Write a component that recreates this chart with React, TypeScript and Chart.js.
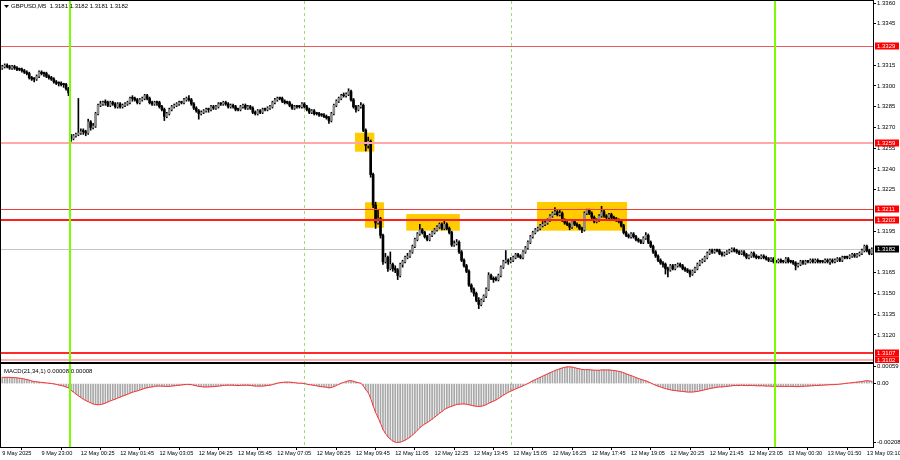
import React, { useEffect, useRef } from 'react';
import { Chart, registerables } from 'chart.js';

Chart.register(...registerables);

// ---------- DATA (prices in pips above BASE) ----------
const BASE = 1.31;
const PIP = 0.0001;

const opensPips = [
  213,214,215,214,213,214,213,212,212,211,
  210,209,206,205,205,207,210,209,209,207,
  206,205,203,202,202,201,201,198,164,162,
  164,165,166,167,167,166,174,170,171,180,
  186,187,188,188,186,188,187,185,187,185,
  186,187,188,191,191,190,188,190,191,193,
  191,188,187,188,188,185,183,178,180,183,
  185,186,187,188,188,190,191,190,187,184,
  182,180,181,182,183,183,185,184,185,187,
  187,188,187,185,186,185,183,183,185,186,
  184,185,184,181,180,182,181,183,183,184,
  185,188,190,191,191,189,188,188,186,184,
  185,185,185,187,185,183,181,182,180,180,
  179,179,178,177,175,180,186,189,191,193,
  193,194,196,190,185,183,185,186,168,157,
  160,136,114,101,104,92,73,76,68,71,
  68,67,63,71,73,76,77,80,84,89,
  93,96,94,91,89,92,94,96,98,100,
  97,100,97,94,85,86,87,80,74,70,
  66,56,53,50,45,42,45,48,53,63,
  61,60,60,63,69,73,74,73,74,76,
  78,77,76,80,83,87,91,94,96,97,
  99,100,101,103,106,108,109,107,108,103,
  101,100,98,102,100,99,97,96,108,110,
  108,105,102,103,106,109,106,105,107,105,
  104,103,102,99,94,92,91,93,91,89,
  88,87,90,92,87,84,80,77,74,72,
  71,68,67,70,68,70,71,70,68,67,
  66,64,66,68,71,73,74,76,79,81,
  80,81,81,79,78,79,80,81,82,81,
  80,79,80,78,76,77,79,77,76,76,
  77,76,75,74,75,73,73,74,73,73,
  75,73,73,72,70,71,73,72,73,73,
  74,73,74,73,73,73,74,73,74,73,
  74,75,74,76,76,76,77,78,77,78,
  79,81,84,81,79
];

const closesPips = [
  214,215,214,213,214,213,212,212,211,210,
  209,206,205,205,207,210,209,209,207,206,
  205,203,202,202,201,201,198,195,162,164,
  165,166,167,167,166,174,170,171,180,186,
  187,188,188,186,188,187,185,187,185,186,
  187,188,191,191,190,188,190,191,193,191,
  188,187,188,188,185,183,178,180,183,185,
  186,187,188,188,190,191,190,187,184,182,
  180,181,182,183,183,185,184,185,187,187,
  188,187,185,186,185,183,183,185,186,184,
  185,184,181,180,182,181,183,183,184,185,
  188,190,191,191,189,188,188,186,184,185,
  185,185,187,185,183,181,182,180,180,179,
  179,178,177,175,180,186,189,191,193,193,
  194,196,190,185,183,185,186,168,157,160,
  136,114,101,104,92,73,76,68,71,68,
  67,63,71,73,76,77,80,84,89,93,
  96,94,91,89,92,94,96,98,100,97,
  100,97,94,85,86,87,80,74,70,66,
  56,53,50,45,42,45,48,53,63,61,
  60,60,63,69,73,74,73,74,76,78,
  77,76,80,83,87,91,94,96,97,99,
  100,101,103,106,108,109,107,108,103,101,
  100,98,102,100,99,97,96,108,110,108,
  105,102,103,106,109,106,105,107,105,104,
  103,102,99,94,92,91,93,91,89,88,
  87,90,92,87,84,80,77,74,72,71,
  68,67,70,68,70,71,70,68,67,66,
  64,66,68,71,73,74,76,79,81,80,
  81,81,79,78,79,80,81,82,81,80,
  79,80,78,76,77,79,77,76,76,77,
  76,75,74,75,73,73,74,73,73,75,
  73,73,72,70,71,73,72,73,73,74,
  73,74,73,73,73,74,73,74,73,74,
  75,74,76,76,76,77,78,77,78,79,
  81,84,81,79,82
];

const highsPips = [
  215,216,216,215,215,215,214,213,213,212,
  211,210,207,206,208,211,211,210,210,208,
  207,206,204,203,203,202,202,199,165,165,
  166,191,169,169,168,176,175,173,181,187,
  189,189,190,189,189,189,188,188,188,187,
  188,189,192,193,192,191,191,192,194,194,
  192,189,189,189,189,186,184,181,184,186,
  187,188,189,189,191,192,193,191,188,185,
  183,182,183,184,184,186,186,186,188,188,
  189,189,188,187,187,186,184,186,187,187,
  186,186,185,182,183,183,184,184,185,186,
  189,191,192,192,192,190,189,189,187,186,
  186,186,188,188,186,184,183,183,181,181,
  180,180,179,178,181,187,190,192,194,195,
  195,198,197,191,186,186,188,187,169,163,
  161,137,116,110,105,93,79,77,80,72,
  70,68,72,74,77,79,81,85,90,94,
  100,97,95,92,93,95,97,99,101,101,
  103,101,98,95,88,89,88,81,75,71,
  67,57,54,51,47,46,49,54,65,64,
  62,62,64,70,74,81,75,76,77,79,
  79,78,81,84,88,92,95,97,98,100,
  102,103,104,107,109,112,110,110,109,104,
  102,101,103,103,101,100,98,109,111,111,
  109,106,104,107,113,110,107,108,108,106,
  105,104,103,100,95,93,94,94,92,90,
  89,91,94,93,88,85,81,78,75,73,
  72,69,71,71,71,72,72,71,69,68,
  67,67,69,72,74,75,77,80,82,82,
  82,82,82,80,80,81,82,83,83,82,
  81,81,81,79,78,80,80,78,77,78,
  78,77,76,76,76,74,75,75,74,76,
  76,74,74,73,72,74,74,74,74,75,
  75,75,75,74,74,75,75,75,75,75,
  76,76,77,77,77,78,79,79,79,80,
  82,85,85,82,83
];

const lowsPips = [
  212,213,213,212,212,212,211,211,210,209,
  208,205,204,203,204,206,208,207,206,205,
  204,202,201,200,200,199,197,193,160,161,
  163,164,165,165,164,165,168,169,170,179,
  185,186,186,185,185,186,184,184,184,184,
  185,186,187,189,189,187,187,189,190,190,
  187,186,186,186,184,182,175,177,179,182,
  184,185,186,187,187,189,189,186,183,181,
  176,179,180,181,181,182,183,183,184,186,
  186,186,184,184,184,182,182,182,184,183,
  183,183,180,179,179,180,180,182,182,183,
  184,187,189,190,188,187,187,185,183,183,
  184,184,184,184,182,180,180,179,179,178,
  178,177,176,173,174,179,185,188,190,192,
  192,193,189,184,181,182,184,167,153,155,
  134,112,97,100,90,71,72,66,67,66,
  65,60,62,69,72,75,76,79,83,88,
  92,93,90,88,88,91,93,95,97,96,
  96,96,93,84,84,85,79,73,69,65,
  55,51,48,44,39,41,44,47,52,60,
  58,59,59,62,68,72,71,72,73,75,
  76,75,75,79,82,86,90,93,95,96,
  98,99,100,102,105,107,106,106,102,100,
  99,96,97,99,98,96,94,95,107,107,
  104,101,101,102,105,105,104,104,104,103,
  102,101,98,93,91,90,90,90,88,87,
  86,86,89,86,83,79,76,73,71,69,
  64,62,66,67,67,69,69,67,66,65,
  62,63,65,67,70,72,73,75,78,79,
  79,80,78,77,77,78,79,80,80,79,
  78,78,77,75,75,76,76,75,75,75,
  75,74,73,73,72,72,72,72,72,72,
  72,72,71,67,69,70,71,71,72,72,
  72,72,72,72,72,72,72,71,72,72,
  73,73,73,75,75,75,76,76,76,77,
  78,80,80,78,78
];

// MACD(21,34,1) main value in units of 0.00001
const macdE5 = [
  22,22,22,22,21,21,20,19,18,16,
  14,12,9,7,6,5,4,3,2,1,
  0,-1,-3,-5,-7,-9,-12,-15,-24,-30,
  -37,-43,-49,-55,-60,-64,-68,-72,-74,-75,
  -74,-72,-69,-65,-61,-58,-55,-51,-48,-44,
  -41,-38,-34,-31,-28,-26,-23,-20,-17,-15,
  -13,-12,-10,-9,-9,-9,-10,-10,-10,-9,
  -8,-7,-6,-5,-4,-3,-3,-4,-6,-8,
  -10,-11,-12,-12,-12,-11,-11,-10,-9,-8,
  -7,-6,-6,-6,-6,-7,-7,-7,-6,-6,
  -6,-7,-8,-9,-9,-9,-9,-8,-7,-6,
  -4,-1,1,3,4,5,5,5,4,3,
  2,1,1,0,-2,-4,-5,-7,-8,-10,
  -11,-12,-13,-15,-14,-11,-7,-3,1,4,
  7,10,10,8,5,3,1,-8,-22,-32,
  -52,-78,-102,-120,-140,-162,-176,-188,-196,-203,
  -207,-208,-207,-204,-200,-195,-189,-182,-174,-165,
  -156,-149,-143,-138,-132,-126,-119,-112,-105,-99,
  -92,-87,-83,-80,-77,-74,-73,-72,-72,-73,
  -75,-77,-79,-80,-81,-80,-78,-75,-70,-66,
  -62,-58,-53,-47,-41,-36,-31,-27,-23,-19,
  -15,-12,-8,-4,0,5,10,14,18,22,
  26,30,34,38,42,46,49,52,55,57,
  59,59,58,56,54,52,50,49,49,49,
  48,47,47,47,48,48,48,48,47,46,
  45,43,41,38,34,31,28,25,21,18,
  15,12,10,6,2,-2,-6,-9,-12,-15,
  -18,-20,-22,-24,-25,-26,-27,-28,-29,-30,
  -30,-30,-29,-28,-26,-24,-22,-20,-18,-16,
  -15,-13,-12,-12,-11,-10,-9,-8,-7,-7,
  -7,-6,-7,-7,-7,-7,-7,-8,-8,-8,
  -8,-9,-9,-9,-10,-10,-10,-10,-10,-10,
  -10,-10,-10,-11,-11,-10,-10,-9,-9,-8,
  -8,-7,-7,-6,-6,-5,-5,-4,-4,-3,
  -3,-2,-1,0,1,2,3,4,5,6,
  7,9,10,9,8
];

const timeTickBars = [0,16,32,48,64,80,96,112,128,144,160,176,192,208,224,240,256,272,288,304,320,336,352];
const timeTickLabels = [
  '9 May 2025','9 May 23:00','12 May 00:25','12 May 01:45','12 May 03:05','12 May 04:25',
  '12 May 05:45','12 May 07:05','12 May 08:25','12 May 09:45','12 May 11:05','12 May 12:25',
  '12 May 13:45','12 May 15:05','12 May 16:25','12 May 17:45','12 May 19:05','12 May 20:25',
  '12 May 21:45','12 May 23:05','13 May 00:30','13 May 01:50','13 May 03:10'
];

const priceTicks = [1.3360,1.3345,1.3315,1.3300,1.3285,1.3270,1.3255,1.3240,1.3225,1.3195,1.3165,1.3150,1.3135,1.3120];
const macdTicks = [0.00059, 0, -0.00208];

const levelPrices = [1.3329, 1.3259, 1.3211, 1.3203, 1.3107, 1.3102];
const currentPrice = 1.3182;

const boxStartBars = [143.6, 147.7, 164.5, 217.7];
const boxEndBars = [151.5, 155.4, 186.3, 254.4];
const boxTopPrices = [1.32662, 1.32159, 1.32074, 1.32161];
const boxBottomPrices = [1.32525, 1.31975, 1.31954, 1.31954];

const dayStartBars = [27.5, 314.5];
const sessionBars = [123, 207];

const titleText = 'GBPUSD,M5  1.3181 1.3182 1.3181 1.3182';
const macdTitle = 'MACD(21,34,1) 0.00008 0.00008';

// ---------- STYLE ----------
const FONT = '"Liberation Sans", Arial, sans-serif';
const levelStyles = [
  { color: '#ee5a5a', width: 1 },
  { color: '#ffa8a8', width: 2 },
  { color: '#f03c3c', width: 1 },
  { color: '#ff1e1e', width: 2 },
  { color: '#ff2a2a', width: 2 },
  { color: '#ffb0b0', width: 2 },
];
const AXIS_W = 27;

const toPrice = (p: number) => BASE + p * PIP;

function fixY(scale: any) {
  scale.width = AXIS_W;
  scale.paddingTop = 0;
  scale.paddingBottom = 0;
}

function drawVLines(chart: any, bars: number[], color: string, width: number, dash: number[]) {
  const { ctx, chartArea: a, scales } = chart;
  ctx.save();
  ctx.strokeStyle = color;
  ctx.lineWidth = width;
  ctx.setLineDash(dash);
  bars.forEach((b) => {
    const px = Math.round(scales.x.getPixelForValue(b)) + (width % 2 ? 0.5 : 0);
    ctx.beginPath();
    ctx.moveTo(px, a.top);
    ctx.lineTo(px, a.bottom);
    ctx.stroke();
  });
  ctx.restore();
}

function drawFrame(chart: any) {
  const { ctx, chartArea: a } = chart;
  ctx.save();
  ctx.strokeStyle = '#000';
  ctx.lineWidth = 1;
  ctx.strokeRect(a.left - 0.5, a.top - 0.5, a.right - a.left + 1, a.bottom - a.top + 1);
  ctx.restore();
}

const pricePlugin = {
  id: 'priceDecor',
  beforeDatasetsDraw(chart: any) {
    const { ctx, chartArea: a, scales: { x, y } } = chart;
    ctx.save();
    ctx.fillStyle = '#ffcc00';
    boxStartBars.forEach((s, k) => {
      const x1 = x.getPixelForValue(s);
      const x2 = x.getPixelForValue(boxEndBars[k]);
      const y1 = y.getPixelForValue(boxTopPrices[k]);
      const y2 = y.getPixelForValue(boxBottomPrices[k]);
      ctx.fillRect(x1, y1, x2 - x1, y2 - y1);
    });
    const cy = Math.round(y.getPixelForValue(currentPrice)) + 0.5;
    ctx.strokeStyle = '#c4c4c4';
    ctx.lineWidth = 1;
    ctx.beginPath();
    ctx.moveTo(a.left, cy);
    ctx.lineTo(a.right, cy);
    ctx.stroke();
    ctx.restore();
    drawVLines(chart, sessionBars, 'rgba(140,205,90,0.8)', 1, [3, 3]);
  },
  afterDatasetsDraw(chart: any) {
    const { ctx, chartArea: a, scales: { y } } = chart;
    ctx.save();
    levelPrices.forEach((p, k) => {
      const st = levelStyles[k];
      const py = Math.round(y.getPixelForValue(p)) + (st.width % 2 ? 0.5 : 0);
      ctx.strokeStyle = st.color;
      ctx.lineWidth = st.width;
      ctx.beginPath();
      ctx.moveTo(a.left, py);
      ctx.lineTo(a.right, py);
      ctx.stroke();
    });
    ctx.restore();
    drawVLines(chart, dayStartBars, '#7cfc00', 2, []);
  },
  afterDraw(chart: any) {
    const { ctx, chartArea: a, scales: { y } } = chart;
    drawFrame(chart);
    ctx.save();
    // title
    ctx.fillStyle = '#000';
    ctx.beginPath();
    ctx.moveTo(4, 5);
    ctx.lineTo(9, 5);
    ctx.lineTo(6.5, 8);
    ctx.closePath();
    ctx.fill();
    ctx.font = `6px ${FONT}`;
    ctx.textBaseline = 'middle';
    ctx.textAlign = 'left';
    ctx.fillText(titleText, 11, 6.5);
    // axis boxes
    const boxLabel = (p: number, bg: string) => {
      const py = y.getPixelForValue(p);
      ctx.fillStyle = bg;
      ctx.fillRect(a.right + 2, Math.round(py) - 3.5, 24, 7);
      ctx.fillStyle = '#fff';
      ctx.fillText(p.toFixed(4), a.right + 4, Math.round(py));
    };
    levelPrices.forEach((p) => boxLabel(p, '#ff0000'));
    boxLabel(currentPrice, '#000');
    ctx.restore();
  },
};

const macdPlugin = {
  id: 'macdDecor',
  beforeDatasetsDraw(chart: any) {
    drawVLines(chart, sessionBars, 'rgba(140,205,90,0.8)', 1, [3, 3]);
  },
  afterDatasetsDraw(chart: any) {
    drawVLines(chart, dayStartBars, '#7cfc00', 2, []);
  },
  afterDraw(chart: any) {
    const { ctx } = chart;
    drawFrame(chart);
    ctx.save();
    ctx.fillStyle = '#000';
    ctx.font = `6px ${FONT}`;
    ctx.textBaseline = 'middle';
    ctx.textAlign = 'left';
    ctx.fillText(macdTitle, 4, 8);
    ctx.restore();
  },
};

export default function App() {
  const priceRef = useRef<HTMLCanvasElement>(null);
  const macdRef = useRef<HTMLCanvasElement>(null);

  useEffect(() => {
    document.body.style.margin = '0';
    const labels = closesPips.map((_, i) => String(i));
    const wicks = lowsPips.map((l, i) => [toPrice(l), toPrice(highsPips[i])]);
    const bodies = opensPips.map((o, i) => [toPrice(o), toPrice(closesPips[i])]);
    const bodyColors = opensPips.map((o, i) => (closesPips[i] > o ? '#8c8c8c' : '#000'));
    const macdVals = macdE5.map((v) => v * 0.00001);

    const priceChart = new Chart(priceRef.current as HTMLCanvasElement, {
      type: 'bar',
      data: {
        labels,
        datasets: [
          { type: 'bar', data: wicks as any, backgroundColor: '#000', barThickness: 1, grouped: false, order: 2, minBarLength: 1 } as any,
          { type: 'bar', data: bodies as any, backgroundColor: bodyColors, barThickness: 2, grouped: false, order: 1, minBarLength: 1 } as any,
        ],
      },
      options: {
        responsive: false,
        animation: false,
        events: [],
        layout: { padding: { left: 1, top: 1, right: 0, bottom: 1 } },
        plugins: { legend: { display: false }, tooltip: { enabled: false } },
        scales: {
          x: { type: 'category', display: false, offset: true },
          y: {
            type: 'linear',
            position: 'right',
            min: 1.310042,
            max: 1.336145,
            afterFit: fixY,
            afterBuildTicks: (s: any) => { s.ticks = priceTicks.map((v) => ({ value: v })); },
            grid: { display: true, drawOnChartArea: false, drawTicks: true, tickLength: 3, color: '#000' },
            border: { display: true, color: '#000' },
            ticks: {
              autoSkip: false,
              padding: 1,
              color: '#000',
              font: { family: FONT, size: 6 },
              callback: (v: any) => Number(v).toFixed(4),
            },
          },
        },
      } as any,
      plugins: [pricePlugin],
    });

    const macdChart = new Chart(macdRef.current as HTMLCanvasElement, {
      type: 'bar',
      data: {
        labels,
        datasets: [
          { type: 'line', data: macdVals, borderColor: '#ff3030', borderWidth: 1, pointRadius: 0, tension: 0, order: 0 } as any,
          { type: 'bar', data: macdVals, backgroundColor: '#a8a8a8', barThickness: 1, grouped: false, order: 1 } as any,
        ],
      },
      options: {
        responsive: false,
        animation: false,
        events: [],
        layout: { padding: { left: 1, top: 1, right: 0, bottom: 0 } },
        plugins: { legend: { display: false }, tooltip: { enabled: false } },
        scales: {
          x: {
            type: 'category',
            offset: true,
            position: 'bottom',
            afterBuildTicks: (s: any) => { s.ticks = timeTickBars.map((v) => ({ value: v })); },
            afterFit: (s: any) => { s.height = 13; s.paddingLeft = 0; s.paddingRight = 0; },
            grid: { display: true, drawOnChartArea: false, drawTicks: true, tickLength: 3, color: '#000' },
            border: { display: true, color: '#000' },
            ticks: {
              autoSkip: false,
              maxRotation: 0,
              minRotation: 0,
              align: 'start',
              padding: 0,
              color: '#000',
              font: { family: FONT, size: 5.6 },
              callback: (v: any) => {
                const k = timeTickBars.indexOf(Number(v));
                return k >= 0 ? timeTickLabels[k] : '';
              },
            },
          },
          y: {
            type: 'linear',
            position: 'right',
            min: -0.00224,
            max: 0.00069,
            afterFit: fixY,
            afterBuildTicks: (s: any) => { s.ticks = macdTicks.map((v) => ({ value: v })); },
            grid: { display: true, drawOnChartArea: false, drawTicks: true, tickLength: 3, color: '#000' },
            border: { display: true, color: '#000' },
            ticks: {
              autoSkip: false,
              padding: 1,
              color: '#000',
              font: { family: FONT, size: 6 },
              callback: (v: any) => (Number(v) === 0 ? '0.00' : Number(v).toFixed(5)),
            },
          },
        },
      } as any,
      plugins: [macdPlugin],
    });

    return () => {
      priceChart.destroy();
      macdChart.destroy();
    };
  }, []);

  return (
    <div style={{ width: 900, height: 460, background: '#fff' }}>
      <canvas ref={priceRef} width={900} height={363} style={{ display: 'block' }} />
      <canvas ref={macdRef} width={900} height={97} style={{ display: 'block' }} />
    </div>
  );
}
